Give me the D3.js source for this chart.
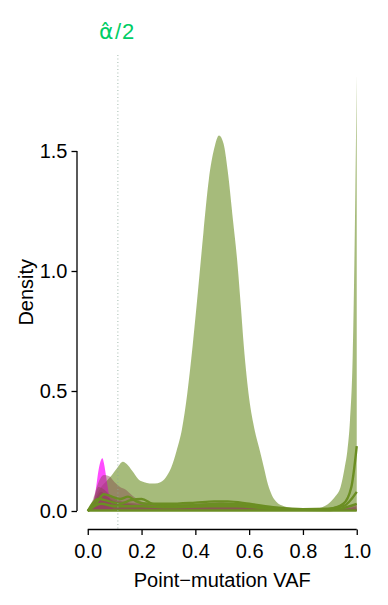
<!DOCTYPE html>
<html><head><meta charset="utf-8">
<script src="https://cdn.jsdelivr.net/npm/d3@7"></script>
<style>body{margin:0;background:#fff}svg{display:block}text{font-family:"Liberation Sans",Arial,sans-serif}</style>
</head><body><svg id="c" width="388" height="605"></svg>
<script>
// ---- data ----
const alphaHalf = 0.112;
const xTicks = [0, 0.2, 0.4, 0.6, 0.8, 1.0];
const yTicks = [0, 0.5, 1.0, 1.5];
// highlighted sample (olivedrab filled)
const mainVaf = [0,0.01,0.02,0.03,0.05,0.07,0.09,0.11,0.13,0.15,0.17,0.19,0.21,0.23,0.25,0.27,0.29,0.31,0.33,0.35,0.37,0.39,0.41,0.43,0.45,0.47,0.488,0.505,0.52,0.54,0.555,0.57,0.58,0.60,0.62,0.64,0.655,0.67,0.685,0.70,0.73,0.76,0.80,0.84,0.87,0.90,0.92,0.94,0.955,0.965,0.975,0.985,0.99,0.995,1.0];
const mainDen = [0,0.01,0.03,0.06,0.10,0.125,0.15,0.18,0.205,0.19,0.16,0.13,0.12,0.115,0.115,0.12,0.14,0.18,0.25,0.34,0.49,0.69,0.92,1.16,1.38,1.51,1.565,1.53,1.42,1.21,1.05,0.84,0.69,0.47,0.34,0.25,0.18,0.11,0.065,0.04,0.02,0.012,0.01,0.01,0.015,0.035,0.06,0.10,0.18,0.25,0.38,0.65,0.95,1.35,1.82];
// magenta sample
const magVaf = [0,0.01,0.02,0.03,0.04,0.05,0.055,0.06,0.07,0.08,0.09,0.10,0.12];
const magDen = [0,0.005,0.03,0.09,0.17,0.215,0.22,0.2,0.13,0.06,0.02,0.005,0];
// brown samples (filled)
const br1Vaf = [0,0.02,0.04,0.06,0.08,0.10,0.12,0.14,0.16,0.19,0.22,0.3,0.4,0.47,0.55,0.65,0.75,0.85,0.95,1.0];
const br1Den = [0,0.05,0.12,0.15,0.145,0.12,0.10,0.09,0.07,0.045,0.035,0.03,0.03,0.035,0.03,0.02,0.01,0.008,0.01,0.02];
const br2Vaf = [0,0.02,0.04,0.06,0.08,0.10,0.13,0.2,0.3,0.45,0.5,0.6,0.7,0.8,0.9,1.0];
const br2Den = [0,0.04,0.10,0.09,0.07,0.05,0.04,0.03,0.025,0.03,0.035,0.02,0.01,0.005,0.005,0.03];
const br3Vaf = [0,0.03,0.05,0.07,0.1,0.15,0.25,0.4,0.5,0.6,0.8,1.0];
const br3Den = [0,0.05,0.08,0.06,0.04,0.03,0.02,0.02,0.025,0.015,0.005,0.01];
// olivedrab outline samples
const l1Vaf = [0,0.03,0.06,0.09,0.12,0.15,0.18,0.22,0.3,0.4,0.47,0.52,0.6,0.7,0.8,0.9,0.95,0.98,1.0];
const l1Den = [0,0.03,0.07,0.06,0.05,0.06,0.04,0.03,0.03,0.035,0.04,0.04,0.03,0.015,0.008,0.01,0.03,0.1,0.27];
const l2Vaf = [0,0.04,0.08,0.12,0.16,0.2,0.24,0.3,0.4,0.5,0.6,0.7,0.85,0.95,1.0];
const l2Den = [0,0.05,0.04,0.03,0.045,0.05,0.03,0.02,0.025,0.03,0.025,0.01,0.005,0.02,0.08];
const l3Vaf = [0,0.05,0.1,0.2,0.3,0.45,0.55,0.7,0.9,1.0];
const l3Den = [0,0.03,0.02,0.02,0.015,0.02,0.02,0.008,0.004,0.03];
const l4Vaf = [0,0.5,1.0];
const l4Den = [0.002,0.002,0.002];

// ---- layout ----
const svg = d3.select("#c");
const x = d3.scaleLinear().domain([-0.04, 1.04]).range([77, 367.5]);
const y = d3.scaleLinear().domain([0, 1.5]).range([511, 151]);
const plotTop = 55, plotBottom = 529.5;

svg.append("clipPath").attr("id","clip").append("rect")
  .attr("x", x.range()[0]).attr("y", plotTop)
  .attr("width", x.range()[1]-x.range()[0]).attr("height", plotBottom-plotTop);
const g = svg.append("g").attr("clip-path","url(#clip)");

const zip = (a,b) => a.map((v,i)=>[v,b[i]]);
const area = d3.area().x(d=>x(d[0])).y0(y(0)).y1(d=>y(d[1])).curve(d3.curveMonotoneX);
const line = d3.line().x(d=>x(d[0])).y(d=>y(d[1])).curve(d3.curveMonotoneX);

g.append("path").datum(zip(mainVaf,mainDen)).attr("d",area)
  .attr("fill","#6B8E23").attr("fill-opacity",0.6);
g.append("path").datum(zip(magVaf,magDen)).attr("d",area)
  .attr("fill","#FF00FF").attr("fill-opacity",0.7);
[[br1Vaf,br1Den],[br2Vaf,br2Den],[br3Vaf,br3Den]].forEach(([a,b])=>{
  g.append("path").datum(zip(a,b)).attr("d",area)
    .attr("fill","#82464A").attr("fill-opacity",0.45);
});
[[l1Vaf,l1Den],[l2Vaf,l2Den],[l3Vaf,l3Den],[l4Vaf,l4Den]].forEach(([a,b])=>{
  g.append("path").datum(zip(a,b)).attr("d",line)
    .attr("fill","none").attr("stroke","#6B8E23").attr("stroke-width",2.4);
});

// dotted alpha/2 line
svg.append("line").attr("x1",x(alphaHalf)).attr("x2",x(alphaHalf))
  .attr("y1",plotTop).attr("y2",plotBottom)
  .attr("stroke","#8aa898").attr("stroke-width",0.8).attr("stroke-dasharray","1,2.5");

// label alpha-hat / 2
const lab = svg.append("g").attr("fill","#00CD66");
const lx = x(alphaHalf);
lab.append("text").attr("x",lx-19).attr("y",39).attr("font-size",22)
  .style("font-family",'"DejaVu Sans"').text("\u03B1\u0302");
lab.append("text").attr("x",lx-3).attr("y",39).attr("font-size",22).attr("letter-spacing",1).text("/2");

// axes
const yAx = svg.append("g").attr("transform",`translate(${x.range()[0]},0)`)
  .call(d3.axisLeft(y).tickValues(yTicks).tickFormat(d3.format(".1f")).tickSize(5.5).tickSizeOuter(0).tickPadding(4));
const xAx = svg.append("g").attr("transform",`translate(0,${plotBottom})`)
  .call(d3.axisBottom(x).tickValues(xTicks).tickFormat(d3.format(".1f")).tickSize(5.5).tickSizeOuter(0).tickPadding(9));
xAx.select(".domain").remove();
xAx.append("line").attr("x1",x(0)).attr("x2",x(1)).attr("stroke","#000").attr("stroke-width",1.3);
yAx.select(".domain").remove();
yAx.append("line").attr("y1",y(0)).attr("y2",y(1.5)).attr("stroke","#000").attr("stroke-width",1.3);
[xAx,yAx].forEach(a=>{
  a.selectAll("text").attr("font-size",20).attr("fill","#000").attr("font-family",'"Liberation Sans",Arial,sans-serif');
  a.selectAll(".tick line").attr("stroke","#000").attr("stroke-width",1.3);
});

svg.append("text").attr("x",(x(0)+x(1))/2).attr("y",587).attr("text-anchor","middle")
  .attr("font-size",20).text("Point\u2212mutation VAF");
svg.append("text").attr("transform",`translate(33,${(plotTop+plotBottom)/2}) rotate(-90)`)
  .attr("text-anchor","middle").attr("font-size",20).text("Density");
</script></body></html>
